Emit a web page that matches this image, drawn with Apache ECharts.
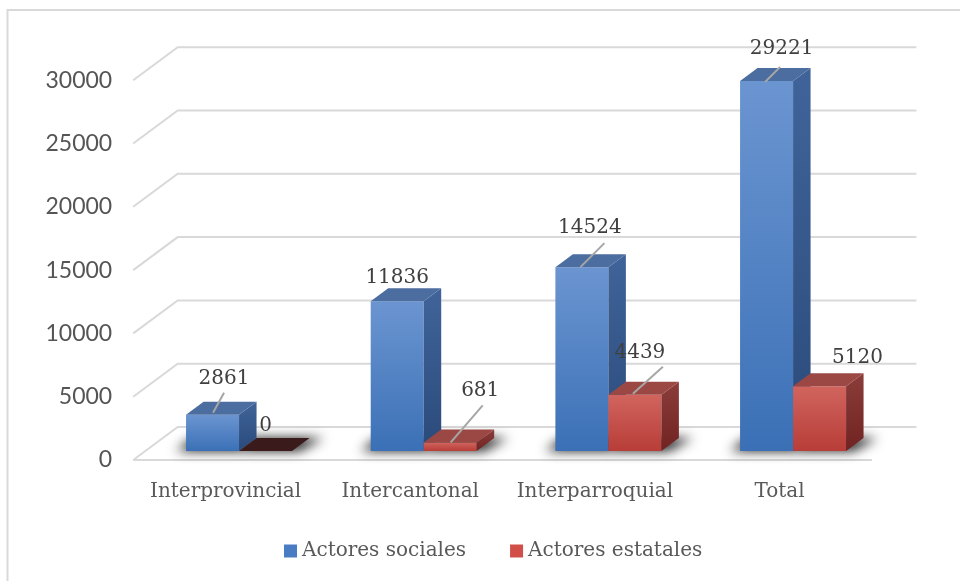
<!DOCTYPE html>
<html>
<head>
<meta charset="utf-8">
<script src="https://cdn.jsdelivr.net/npm/echarts@6/dist/echarts.min.js"></script>
<style>
  html, body { margin: 0; padding: 0; background: #ffffff; }
  #chart { width: 960px; height: 581px; }
</style>
</head>
<body>
<div id="chart"></div>
<script>
// ---- data ----
const categories = ['Interprovincial', 'Intercantonal', 'Interparroquial', 'Total'];
const actoresSociales = [2861, 11836, 14524, 29221];
const actoresEstatales = [0, 681, 4439, 5120];
const yTicks = [0, 5000, 10000, 15000, 20000, 25000, 30000];
const seriesNames = ['Actores sociales', 'Actores estatales'];

// ---- layout / style constants ----
const BAR_RATIO = 0.287;          // bar width as a share of one category band
const BAR_DX = 17.5, BAR_DY = -13; // depth of each column
const FRONT_DX = -13.5, FRONT_DY = 9;  // floor front edge, relative to the column plane
const BACK_DX = 31, BACK_DY = -24;     // back wall, relative to the column plane
const GRID_COLOR = '#d9d9d9';
const SERIF = '"DejaVu Serif", "Liberation Serif", serif';
const SHADOW_SHIFT = 3000;         // shadow casters are drawn off-canvas, only their blur is shifted back

// label offsets from the column's front-top centre: [labelDx, labelDy, leader or null]
const labelPlacement = [
  [[11.5, -36, [0.5, -2, 11.5, -22]], [0, -23, null], [8, -39, [-1.5, 0, 22.5, -24]], [15, -32, [-1.5, 1, 13.5, -14]]],
  [[0, -25, null], [30, -52, [0.5, 0, 32.5, -37]], [5, -42, [-2, -1, 28, -28]], [38, -28, null]]
];

const palettes = [
  { front: ['#6b95d1', '#3b70b6'], side: ['#40649a', '#2a4a7a'], top: '#4c6d9f', legend: '#4a7cc4' },
  { front: ['#d1645e', '#b83d38'], side: ['#8b3d3a', '#702322'], top: '#9b4845', zeroTop: '#3a1a1a', legend: '#d24e48' }
];

function vgrad(c) {
  return { type: 'linear', x: 0, y: 0, x2: 0, y2: 1, colorStops: [{ offset: 0, color: c[0] }, { offset: 1, color: c[1] }] };
}

function columnRenderer(sIdx) {
  const pal = palettes[sIdx];
  return function (params, api) {
    const ci = api.value(0);
    const v = api.value(1);
    const base = api.coord([ci, 0]);
    const topPt = api.coord([ci, v]);
    const band = api.size([1, 0])[0];
    const w = band * BAR_RATIO;
    const x0 = base[0] - w + sIdx * w;
    const x1 = x0 + w;
    const yB = base[1];
    const yT = topPt[1];
    const children = [];

    // soft shadow on the floor around the column base
    const padL = sIdx === 0 ? 10 : 0;
    const padR = sIdx === 1 ? 14 : 0;
    const S = SHADOW_SHIFT;
    children.push({
      type: 'polygon', z2: 0, silent: true,
      shape: { points: [
        [x0 - padL - S, yB], [x1 + padR * 0.5 - S, yB],
        [x1 + BAR_DX + padR - S, yB + BAR_DY], [x0 + BAR_DX - padL - S, yB + BAR_DY]
      ] },
      style: { fill: '#000', shadowBlur: 12, shadowColor: 'rgba(0,0,0,0.9)', shadowOffsetX: S }
    });

    if (yB - yT > 0.5) {
      children.push({
        type: 'rect', z2: 10,
        shape: { x: x0, y: yT, width: w, height: yB - yT },
        style: { fill: vgrad(pal.front) }
      });
      children.push({
        type: 'polygon', z2: 10,
        shape: { points: [[x1, yT], [x1 + BAR_DX, yT + BAR_DY], [x1 + BAR_DX, yB + BAR_DY], [x1, yB]] },
        style: { fill: vgrad(pal.side) }
      });
    }
    children.push({
      type: 'polygon', z2: 10,
      shape: { points: [[x0, yT], [x1, yT], [x1 + BAR_DX, yT + BAR_DY], [x0 + BAR_DX, yT + BAR_DY]] },
      style: { fill: (v === 0 && pal.zeroTop) ? pal.zeroTop : pal.top }
    });

    // value label with optional leader line
    const cx = (x0 + x1) / 2;
    const lp = labelPlacement[sIdx][ci];
    if (lp[2]) {
      const L = lp[2];
      children.push({
        type: 'line', z2: 40,
        shape: { x1: cx + L[0], y1: yT + L[1], x2: cx + L[2], y2: yT + L[3] },
        style: { stroke: '#a6a6a6', lineWidth: 2 }
      });
    }
    children.push({
      type: 'text', z2: 50,
      x: cx + lp[0], y: yT + lp[1],
      style: { text: String(v), fill: '#404040', font: '20px ' + SERIF, align: 'center', verticalAlign: 'middle' }
    });
    return { type: 'group', children: children };
  };
}

function wallRenderer(params, api) {
  const v = api.value(1);
  const y = api.coord([0, v])[1];
  const cs = params.coordSys;
  const left = cs.x, right = cs.x + cs.width;
  const children = [{
    type: 'polyline',
    shape: { points: [[left + FRONT_DX, y + FRONT_DY], [left + BACK_DX, y + BACK_DY], [right + BACK_DX, y + BACK_DY]] },
    style: { stroke: GRID_COLOR, lineWidth: 2, fill: null }
  }];
  if (v === 0) {
    children.push({
      type: 'line',
      shape: { x1: left + FRONT_DX, y1: y + FRONT_DY, x2: right + FRONT_DX, y2: y + FRONT_DY },
      style: { stroke: GRID_COLOR, lineWidth: 2 }
    });
  }
  return { type: 'group', children: children };
}

const chart = echarts.init(document.getElementById('chart'), null, { renderer: 'canvas' });

const option = {
  backgroundColor: '#ffffff',
  animation: false,
  graphic: [{
    type: 'rect', silent: true,
    shape: { x: 7.5, y: 10, width: 1000, height: 1000 },
    style: { fill: null, stroke: GRID_COLOR, lineWidth: 2 }
  }],
  legend: {
    data: seriesNames,
    left: 279, top: 536,
    icon: 'rect', itemWidth: 13, itemHeight: 13, itemGap: 44,
    textStyle: { fontFamily: SERIF, fontSize: 20, color: '#595959' }
  },
  grid: [
    // plane of the column fronts
    { left: 146.7, right: 74.6, top: 71.2, bottom: 130, outerBoundsMode: 'none' },
    // floor front plane, carries the axis labels
    { left: 133.2, right: 88.1, top: 80.2, bottom: 121, outerBoundsMode: 'none' }
  ],
  xAxis: [
    { type: 'category', gridIndex: 0, data: categories, show: false },
    {
      type: 'category', gridIndex: 1, data: categories,
      axisLine: { show: false }, axisTick: { show: false }, splitLine: { show: false },
      axisLabel: { interval: 0, margin: 22, fontFamily: SERIF, fontSize: 20, color: '#595959' }
    }
  ],
  yAxis: [
    { type: 'value', gridIndex: 0, min: 0, max: 30000, interval: 5000, show: false },
    {
      type: 'value', gridIndex: 1, min: 0, max: 30000, interval: 5000,
      axisLine: { show: false }, axisTick: { show: false }, splitLine: { show: false },
      axisLabel: {
        margin: 21, fontFamily: 'Lato, "Open Sans", sans-serif', fontSize: 23, color: '#555555',
        formatter: function (val) { const i = yTicks.indexOf(val); return i >= 0 ? String(yTicks[i]) : ''; }
      }
    }
  ],
  series: [
    {
      type: 'custom', name: 'walls', xAxisIndex: 0, yAxisIndex: 0, z: 1, silent: true, clip: false,
      data: yTicks.map(function (t) { return [0, t]; }),
      encode: { x: 0, y: 1 },
      renderItem: wallRenderer
    },
    {
      type: 'custom', name: seriesNames[0], xAxisIndex: 0, yAxisIndex: 0, z: 2, clip: false,
      itemStyle: { color: palettes[0].legend },
      data: actoresSociales.map(function (v, i) { return [i, v]; }),
      encode: { x: 0, y: 1 },
      renderItem: columnRenderer(0)
    },
    {
      type: 'custom', name: seriesNames[1], xAxisIndex: 0, yAxisIndex: 0, z: 2, clip: false,
      itemStyle: { color: palettes[1].legend },
      data: actoresEstatales.map(function (v, i) { return [i, v]; }),
      encode: { x: 0, y: 1 },
      renderItem: columnRenderer(1)
    }
  ]
};

chart.setOption(option);
</script>
</body>
</html>
